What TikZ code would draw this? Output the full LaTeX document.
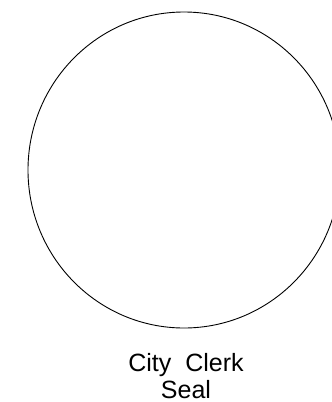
\documentclass[tikz,border=0pt]{standalone}
\usepackage{fontspec}
\setmainfont{Liberation Sans}
\usepackage{tikz}
\usetikzlibrary{positioning}
\tikzset{
  sealring/.style ={draw=black, line width=0.9pt},
  sealtext/.style ={align=center, inner sep=0pt,
                    font=\fontsize{25}{27}\selectfont},
}

\begin{document}
\begin{tikzpicture}[x=1pt,y=1pt]
\useasboundingbox (0,0) rectangle (332,-402);
\draw[sealring] (184,-170) ellipse [x radius=156, y radius=158];
\coordinate (seal) at (184,-170);
\node[sealtext,anchor=base] (caption) at (186,-398) {City\ \ Clerk\\Seal};
\end{tikzpicture}
\end{document}
